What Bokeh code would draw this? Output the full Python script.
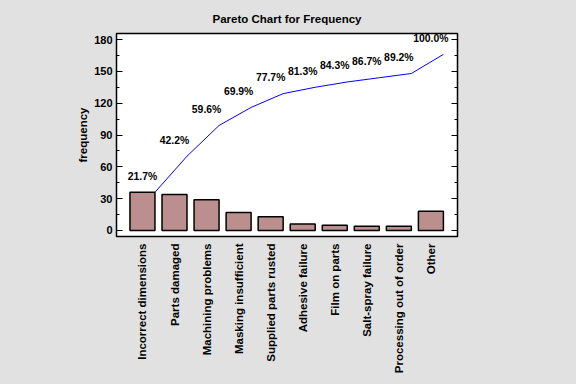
import numpy as np
from bokeh.plotting import figure
from bokeh.models import Range1d, FixedTicker, LinearAxis, ColumnDataSource
from bokeh.core.properties import value
from bokeh.embed import file_html
from bokeh.resources import INLINE

categories = ["Incorrect dimensions", "Parts damaged", "Machining problems",
              "Masking insufficient", "Supplied parts rusted", "Adhesive failure",
              "Film on parts", "Salt-spray failure", "Processing out of order", "Other"]
frequency = [36, 34, 29, 17, 13, 6, 5, 4, 4, 18]
y_ticks = [0, 30, 60, 90, 120, 150, 180]

idx = list(range(len(categories)))
cum = list(np.cumsum(frequency))
total = cum[-1]
pct = [f"{100.0 * c / total:.1f}%" for c in cum]

BG = "#e1e1e1"
FONT = "Liberation Sans"

p = figure(width=576, height=384, output_backend="svg", toolbar_location=None,
           x_range=Range1d(-0.81, 9.83), y_range=Range1d(-5.7, 185.7),
           min_border_left=116, min_border_right=119, min_border_top=33, min_border_bottom=148,
           background_fill_color="white", border_fill_color=BG,
           title="Pareto Chart for Frequency")
p.title.align = "center"
p.title.text_font = FONT
p.title.text_font_size = "11.5px"
p.title.text_font_style = "bold"
p.title.text_color = "black"
p.title.standoff = 17
p.grid.visible = False
p.outline_line_color = "black"
p.outline_line_width = 1.5

src = ColumnDataSource(dict(x=idx, top=frequency, cum=cum, lx=[i + 0.39 for i in idx], pct=pct))
p.vbar(x="x", top="top", bottom=0, width=0.78, source=src,
       fill_color="#bc8f8f", line_color="black", line_width=1.5)
p.line(x="lx", y="cum", source=src, line_color="blue", line_width=1)
p.text(x="x", y="cum", text="pct", source=src, text_align="center", text_baseline="middle",
       y_offset=-16, text_font=value(FONT), text_font_size="10.4px", text_font_style="bold",
       text_color="black")

minor = list(range(0, 181, 15))

# left axis
ya = p.yaxis[0]
ya.ticker = FixedTicker(ticks=y_ticks, minor_ticks=minor)
ya.axis_label = "frequency"
ya.axis_label_text_font = FONT
ya.axis_label_text_font_size = "11.5px"
ya.axis_label_text_font_style = "bold"
ya.axis_label_text_color = "black"
ya.axis_label_standoff = 2
ya.major_label_text_font = FONT
ya.major_label_text_font_size = "11px"
ya.major_label_text_font_style = "bold"
ya.major_label_text_color = "black"
ya.major_label_standoff = 4
ya.axis_line_color = None
ya.major_tick_in = 6
ya.major_tick_out = 0
ya.minor_tick_in = 3
ya.minor_tick_out = 0
ya.major_tick_line_color = "black"
ya.minor_tick_line_color = "black"

# right axis with ticks only
ra = LinearAxis(ticker=FixedTicker(ticks=y_ticks, minor_ticks=minor),
                major_label_overrides={t: "" for t in y_ticks}, axis_line_color=None,
                major_tick_in=6, major_tick_out=0, minor_tick_in=3, minor_tick_out=0)
p.add_layout(ra, "right")

# bottom axis
xa = p.xaxis[0]
xa.ticker = FixedTicker(ticks=idx)
xa.major_label_overrides = {i: c for i, c in zip(idx, categories)}
xa.major_label_orientation = np.pi / 2
xa.major_label_text_font = FONT
xa.major_label_text_font_size = "11.5px"
xa.major_label_text_font_style = "bold"
xa.major_label_text_color = "black"
xa.major_label_standoff = 7
xa.major_tick_in = 0
xa.major_tick_out = 0
xa.minor_tick_in = 0
xa.minor_tick_out = 0
xa.axis_line_color = None

html = file_html(p, INLINE)
html = html.replace("<head>", "<head><style>html,body{background:%s;margin:0;}</style>" % BG, 1)
open("out.html", "w").write(html)
